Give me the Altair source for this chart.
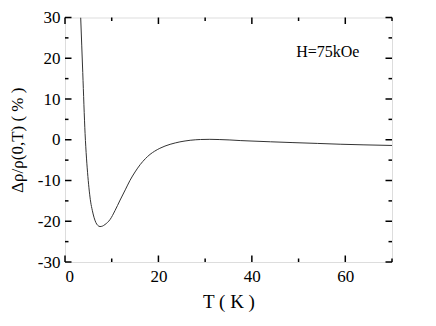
import altair as alt
import pandas as pd

# Curve: temperature (K) and magnetoresistance (%)
T_vals = [3.36, 3.8, 4.3, 4.6, 4.9, 5.2, 5.5, 5.84, 6.2, 6.6, 7.0, 7.5, 8.0, 8.56,
          9.1, 9.63, 10.7, 11.8, 12.9, 13.9, 15.0, 16.1, 17.2, 18.2, 19.2, 20.3,
          21.4, 22.5, 23.6, 24.6, 25.7, 26.8, 28.0, 29.0, 31.0, 33.0, 35.3, 37.5,
          39.6, 44.0, 48.8, 54.0, 58.9, 64.0, 70.0]
MR_vals = [30.0, 16.5, 1.5, -4.5, -9.0, -12.6, -15.3, -17.3, -19.0, -20.3, -21.0,
           -21.3, -21.2, -20.8, -20.3, -19.6, -17.4, -14.8, -12.3, -10.0, -7.9, -6.1,
           -4.65, -3.6, -2.8, -2.1, -1.55, -1.12, -0.78, -0.52, -0.3, -0.13, 0.0,
           0.06, 0.1, 0.05, -0.05, -0.2, -0.3, -0.5, -0.7, -0.9, -1.1, -1.25, -1.4]

x_major = [0, 20, 40, 60]
x_minor = [10, 30, 50, 70]
y_major = [-30, -20, -10, 0, 10, 20, 30]
y_minor = [-25, -15, -5, 5, 15, 25]

label_text = ["H=75kOe"]
label_T = [49.5]
label_MR = [20.2]

W, H = 327, 244.5
MAJ, MIN = 6.5, 3.5
FONT = "Liberation Serif"

xs = alt.Scale(domain=[0, 70], nice=False, zero=False)
ys = alt.Scale(domain=[-30, 30], nice=False, zero=False)

xaxis = alt.Axis(values=x_major, title="T ( K )", ticks=False, tickSize=0,
                 domain=False, grid=False, labelFont=FONT, labelFontSize=17,
                 labelColor="black", labelPadding=6, titleFont=FONT,
                 titleFontSize=19, titleFontWeight="normal", titleColor="black",
                 titleY=30, titleBaseline="top")
yaxis = alt.Axis(values=y_major, title="Δρ/ρ(0,T) ( % )", ticks=False, tickSize=0,
                 domain=False, grid=False, labelFont=FONT, labelFontSize=17,
                 labelColor="black", labelPadding=5, labelExpr="'' + datum.value",
                 titleFont=FONT, titleFontSize=17, titleFontWeight="normal",
                 titleColor="black", titleX=-43, titleBaseline="alphabetic")

X = lambda: alt.X("T:Q", scale=xs, axis=xaxis)
Y = lambda: alt.Y("MR:Q", scale=ys, axis=yaxis)

curve = pd.DataFrame({"T": T_vals, "MR": MR_vals})
line = alt.Chart(curve).mark_line(color="#333333", strokeWidth=1, interpolate="monotone", clip=True).encode(
    x=X(), y=Y()
)

def xticks(vals, length):
    d = pd.DataFrame({"T": vals})
    base = alt.Chart(d).mark_rule(color="black", strokeWidth=1.5)
    bottom = base.encode(x=X(), y=alt.value(H), y2=alt.value(H - length))
    top = base.encode(x=X(), y=alt.value(0), y2=alt.value(length))
    return [bottom, top]

def yticks(vals, length):
    d = pd.DataFrame({"MR": vals})
    base = alt.Chart(d).mark_rule(color="black", strokeWidth=1.5)
    left = base.encode(y=Y(), x=alt.value(0), x2=alt.value(length))
    right = base.encode(y=Y(), x=alt.value(W), x2=alt.value(W - length))
    return [left, right]

ann = alt.Chart(pd.DataFrame({"t": label_text, "T": label_T, "MR": label_MR})).mark_text(
    align="left", baseline="alphabetic", font=FONT, fontSize=16, color="black"
).encode(x=X(), y=Y(), text="t:N")

layers = [line] + xticks(x_major, MAJ) + xticks(x_minor, MIN) + yticks(y_major, MAJ) + yticks(y_minor, MIN) + [ann]

chart = alt.layer(*layers).properties(
    width=W, height=H,
    autosize=alt.AutoSizeParams(type="none"),
    padding={"left": 57, "top": 9.5, "right": 20, "bottom": 50},
).configure_view(stroke="black", strokeWidth=1.5).configure(background="white")

chart.save("out.html", embed_options={"renderer": "svg", "actions": False})
